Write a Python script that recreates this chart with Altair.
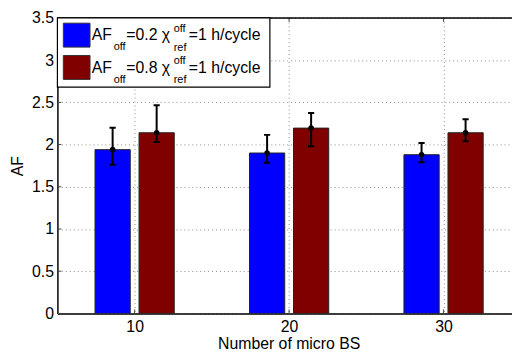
import altair as alt
import pandas as pd

# ---- data ----
n_bs = [10, 20, 30]
series = ["AF_off=0.2", "AF_off=0.8"]
af_02 = [1.94, 1.90, 1.88]
af_02_lo = [1.76, 1.785, 1.79]
af_02_hi = [2.20, 2.115, 2.02]
af_08 = [2.14, 2.195, 2.14]
af_08_lo = [2.03, 1.98, 2.04]
af_08_hi = [2.465, 2.375, 2.30]
y_ticks = [0, 0.5, 1, 1.5, 2, 2.5, 3, 3.5]
colors = ["#0000ff", "#800000"]

rows = []
for i, n in enumerate(n_bs):
    rows.append(dict(n=n, s=series[0], v=af_02[i], lo=af_02_lo[i], hi=af_02_hi[i], k=-1))
    rows.append(dict(n=n, s=series[1], v=af_08[i], lo=af_08_lo[i], hi=af_08_hi[i], k=1))
df = pd.DataFrame(rows)

W, H = 460, 299
FONT = "Liberation Sans"
xs = alt.Scale(domain=[5, 34.43], nice=False, zero=False)
ys = alt.Scale(domain=[0, 3.5], nice=False)

base = alt.Chart(df).transform_calculate(
    c="datum.n + datum.k * 1.425",
    x0="datum.n + datum.k * 1.425 - 1.14",
    x1="datum.n + datum.k * 1.425 + 1.14",
    c0="datum.n + datum.k * 1.425 - 0.2",
    c1="datum.n + datum.k * 1.425 + 0.2",
)

bars = base.mark_bar(stroke="#222", strokeWidth=1, clip=True).encode(
    x=alt.X("x0:Q", scale=xs,
            axis=alt.Axis(values=n_bs, format="d", title="Number of micro BS",
                          grid=True, gridDash=[1, 3], gridColor="#8a8a8a",
                          ticks=False, tickSize=0, labelPadding=5,
                          titleX=234, titleY=35.5, titleBaseline="alphabetic",
                          titleAlign="center")),
    x2="x1:Q",
    y=alt.Y("v:Q", scale=ys,
            axis=alt.Axis(values=y_ticks, format="~g", title="AF", grid=True,
                          gridDash=[1, 3], gridColor="#8a8a8a", ticks=False, tickSize=0,
                          labelPadding=4, titleX=-40, titleY=H / 2,
                          titleAngle=270, titleBaseline="middle", titleAlign="center")),
    y2=alt.datum(0),
    color=alt.Color("s:N", scale=alt.Scale(domain=series, range=colors), legend=None),
)

err = base.mark_rule(color="black", strokeWidth=2, clip=True).encode(
    x="c:Q", y="lo:Q", y2="hi:Q")
cap_hi = base.mark_rule(color="black", strokeWidth=2, clip=True).encode(
    x="c0:Q", x2="c1:Q", y="hi:Q")
cap_lo = base.mark_rule(color="black", strokeWidth=2, clip=True).encode(
    x="c0:Q", x2="c1:Q", y="lo:Q")
dots = base.mark_circle(color="black", opacity=1, size=32, clip=True).encode(
    x="c:Q", y="v:Q")

# inward tick marks (MATLAB style) and top border
ytick_df = pd.DataFrame({"t": y_ticks})
xtick_df = pd.DataFrame({"t": n_bs})
ytk = alt.Chart(ytick_df).mark_rule(color="#444", strokeWidth=1).encode(
    y=alt.Y("t:Q", scale=ys), x=alt.value(0), x2=alt.value(4))
xtk_b = alt.Chart(xtick_df).mark_rule(color="#444", strokeWidth=1).encode(
    x=alt.X("t:Q", scale=xs), y=alt.value(H), y2=alt.value(H - 4))
xtk_t = alt.Chart(xtick_df).mark_rule(color="#444", strokeWidth=1).encode(
    x=alt.X("t:Q", scale=xs), y=alt.value(0), y2=alt.value(4))
one = pd.DataFrame({"a": [0]})
top_line = alt.Chart(one).mark_rule(color="black", strokeWidth=1.5).encode(
    x=alt.value(0), x2=alt.value(W), y=alt.value(0))

# legend box
leg_box = alt.Chart(one).mark_rect(fill="white", stroke="black", strokeWidth=1.2).encode(
    x=alt.value(0), x2=alt.value(215), y=alt.value(0), y2=alt.value(70))
layers = [leg_box]
labels_num = ["0.2", "0.8"]
for r, (col, num) in enumerate(zip(colors, labels_num)):
    dy = r * 32.7
    layers.append(alt.Chart(one).mark_rect(fill=col, stroke="#333", strokeWidth=1).encode(
        x=alt.value(6), x2=alt.value(33), y=alt.value(5.3 + dy), y2=alt.value(29.5 + dy)))
    pieces = [
        ("AF", 34.7, 22.7, 16),
        ("off", 57, 32.7, 11),
        ("=" + num + " χ", 69.7, 22.7, 16),
        ("off", 117.7, 14.3, 11),
        ("ref", 117.7, 33.0, 11),
        ("=1 h/cycle", 133, 22.7, 16),
    ]
    for txt, px, py, fs in pieces:
        layers.append(alt.Chart(one).mark_text(
            align="left", baseline="alphabetic", font=FONT, fontSize=fs, color="black"
        ).encode(x=alt.value(px), y=alt.value(py + dy), text=alt.value(txt)))

chart = alt.layer(bars, err, cap_hi, cap_lo, dots, ytk, xtk_b, xtk_t, top_line, *layers).properties(
    width=W, height=H,
    background="white",
    autosize=alt.AutoSizeParams(type="none"),
    padding={"left": 50, "top": 8, "right": 0, "bottom": 39},
).configure_view(stroke=None).configure_axis(
    labelFont=FONT, titleFont=FONT, labelFontSize=16, titleFontSize=16,
    labelColor="black", titleColor="black", titleFontWeight="normal",
    domainColor="black", domainWidth=1.5,
)

chart.save("out.html", embed_options={"renderer": "svg", "actions": False})
